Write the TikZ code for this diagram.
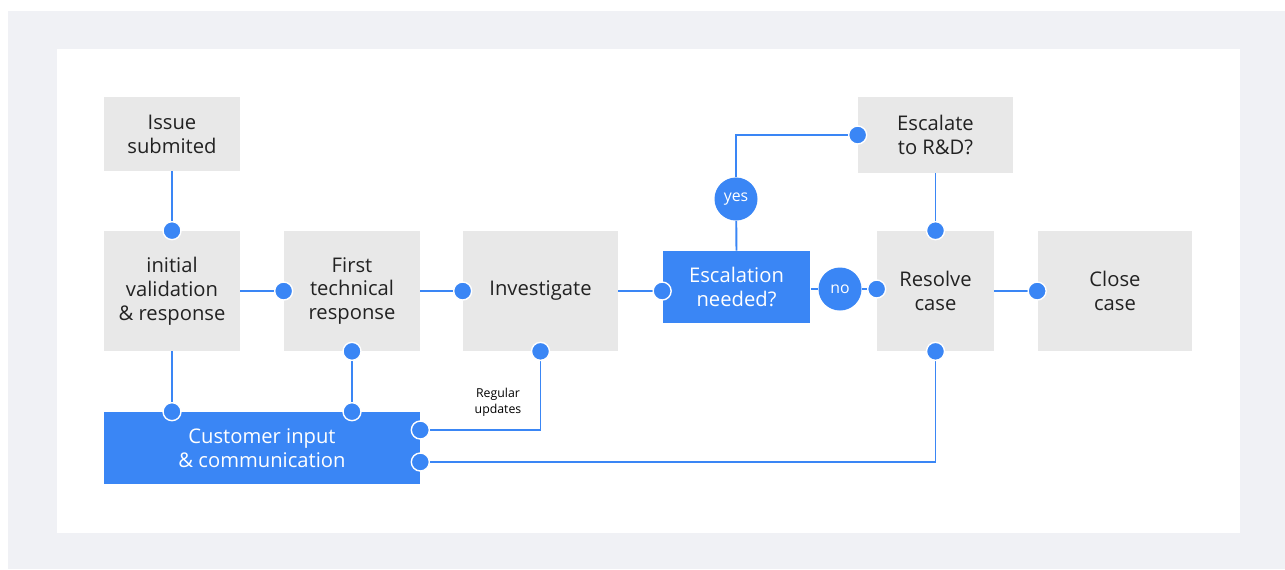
\documentclass[tikz,border=0pt]{standalone}
\usepackage{fontspec}
\setmainfont{Open Sans}
\usetikzlibrary{positioning}

\definecolor{flowblue}{HTML}{3A86F5}
\definecolor{boxgray}{HTML}{E8E8E8}
\definecolor{pagegray}{HTML}{F0F1F5}
\definecolor{inkgray}{HTML}{222222}

\begin{document}
\begin{tikzpicture}[x=0.02cm,y=-0.02cm,
  greybox/.style={fill=boxgray, text=inkgray, align=center, inner sep=0pt,
    font=\fontsize{11.5}{13.6}\selectfont},
  bluebox/.style={greybox, fill=flowblue, text=white},
  tag/.style={circle, fill=flowblue, text=white, minimum size=0.86cm, inner sep=0pt,
    font=\fontsize{9}{10}\selectfont},
  link/.style={draw=flowblue, line width=1.1pt},
  note/.style={align=center, text=black, inner sep=0pt, font=\fontsize{7}{9}\selectfont}]
  \def\dotr{0.18cm}
  \newcommand\flowdot[1]{\filldraw[fill=flowblue, draw=white, line width=0.8pt] #1 circle (\dotr);}

  % page and panel
  \useasboundingbox (0,0) rectangle (1285,569);
  \fill[pagegray] (8,11) rectangle (1285,569);
  \fill[white] (57,49) rectangle (1240,533);

  % boxes
  \node[greybox, minimum width=2.72cm, minimum height=1.48cm] (issue) at (172,134) {Issue\\submited};
  \node[greybox, minimum width=2.72cm, minimum height=2.4cm] (init) at (172,291) {initial\\validation\\\& response};
  \node[greybox, minimum width=2.72cm, minimum height=2.4cm] (first) at (352,291) {First\\technical\\response};
  \node[greybox, minimum width=3.1cm, minimum height=2.4cm] (invest) at (540.5,291) {Investigate};
  \node[bluebox, minimum width=2.96cm, minimum height=1.44cm] (esc) at (736.5,287) {Escalation\\needed?};
  \node[greybox, minimum width=3.1cm, minimum height=1.52cm] (rnd) at (935.5,135) {Escalate\\to R\&D?};
  \node[greybox, minimum width=2.34cm, minimum height=2.4cm] (resolve) at (935.5,291) {Resolve\\case};
  \node[greybox, minimum width=3.1cm, minimum height=2.4cm] (close) at (1115,291) {Close\\case};
  \node[bluebox, minimum width=6.32cm, minimum height=1.44cm] (cust) at (262,448) {Customer input\\\& communication};

  % decision tags
  \node[tag] (yes) at (736,199) {yes};
  \node[tag] (no) at (840,289) {no};
  \node[note] (updates) at (498,402) {Regular\\updates};

  \coordinate (updin) at ([yshift=0.36cm]cust.east);
  \coordinate (resin) at ([yshift=-0.28cm]cust.east);

  % connectors
  \draw[link] (issue.south) -- (init.north);
  \draw[link] (init.east) -- (first.west);
  \draw[link] (first.east) -- (invest.west);
  \draw[link] (invest.east) -- (esc.west |- invest.east);
  \draw[link] (esc.east |- no) -- (no) -- (resolve.west |- no);
  \draw[link] (esc.north) -- (yes) -- (yes |- rnd.west) -- (rnd.west);
  \draw[link] (rnd.south) -- (resolve.north);
  \draw[link] (resolve.east) -- (close.west);
  \draw[link] (init.south) -- (init.south |- cust.north);
  \draw[link] (first.south) -- (first.south |- cust.north);
  \draw[link] (invest.south) |- (updin);
  \draw[link] (resolve.south) |- (resin);

  % end dots
  \flowdot{(init.north)}
  \flowdot{(first.west)}
  \flowdot{(invest.west)}
  \flowdot{(esc.west |- invest.east)}
  \flowdot{(resolve.west |- no)}
  \flowdot{(rnd.west)}
  \flowdot{(resolve.north)}
  \flowdot{(close.west)}
  \flowdot{(init.south |- cust.north)}
  \flowdot{(first.south |- cust.north)}
  \flowdot{(first.south)}
  \flowdot{(invest.south)}
  \flowdot{(resolve.south)}
  \flowdot{(updin)}
  \flowdot{(resin)}
\end{tikzpicture}
\end{document}
